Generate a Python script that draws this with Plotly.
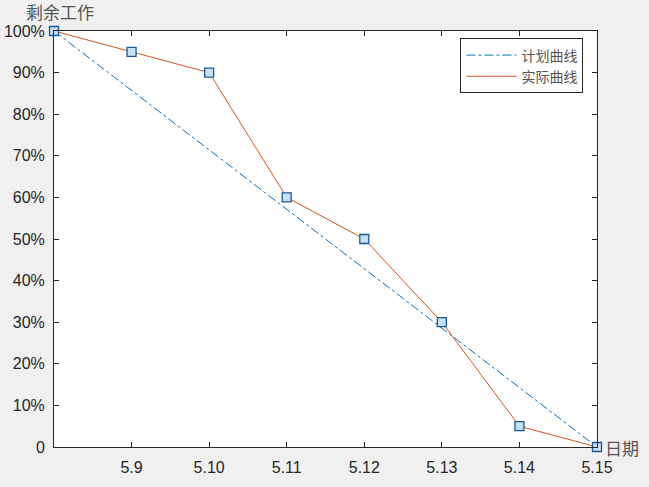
import plotly.graph_objects as go

x_idx = [0, 1, 2, 3, 4, 5, 6, 7]
tick_labels = ["", "5.9", "5.10", "5.11", "5.12", "5.13", "5.14", "5.15"]
plan_x = [0, 7]
plan_y = [100, 0]
actual_y = [100, 95, 90, 60, 50, 30, 5, 0]
y_ticks = [0, 10, 20, 30, 40, 50, 60, 70, 80, 90, 100]
y_labels = ["0"] + [f"{v}%" for v in y_ticks[1:]]

fig = go.Figure()
fig.add_trace(go.Scatter(x=plan_x, y=plan_y, mode="lines", name="计划曲线",
                         line=dict(color="#0072BD", width=1, dash="dashdot"),
                         cliponaxis=False))
fig.add_trace(go.Scatter(x=x_idx, y=actual_y, mode="lines", name="实际曲线",
                         line=dict(color="#D95319", width=1), cliponaxis=False))
fig.add_trace(go.Scatter(x=x_idx, y=actual_y, mode="markers", showlegend=False,
                         cliponaxis=False,
                         marker=dict(symbol="square", size=9, color="#C6E0F5",
                                     line=dict(color="#1A5A9A", width=1.3))))

font = "Liberation Sans, Arial, Noto Sans CJK SC"
fig.update_layout(
    width=649, height=487,
    paper_bgcolor="#F0F0F0", plot_bgcolor="white",
    margin=dict(l=54, r=52, t=31, b=40, autoexpand=False),
    font=dict(family=font, size=16, color="#262626"),
    legend=dict(x=0.975, y=0.982, xanchor="right", yanchor="top",
                bgcolor="white", bordercolor="#262626", borderwidth=1,
                font=dict(family="Noto Sans CJK SC", size=14, color="#555555"),
                tracegroupgap=0, itemwidth=50),
    xaxis=dict(range=[0, 7], tickvals=x_idx, ticktext=tick_labels,
               ticks="inside", ticklen=5, tickcolor="#262626", ticklabelstandoff=6,
               showline=True, linecolor="#262626", linewidth=1, mirror="ticks",
               showgrid=False, zeroline=False, fixedrange=True, automargin=False),
    yaxis=dict(range=[0, 100], tickvals=y_ticks, ticktext=y_labels,
               ticks="inside", ticklen=5, tickcolor="#262626", ticklabelstandoff=5,
               showline=True, linecolor="#262626", linewidth=1, mirror="ticks",
               showgrid=False, zeroline=False, fixedrange=True, automargin=False),
    showlegend=True,
)
fig.add_annotation(text="剩余工作", xref="paper", yref="paper", x=0, y=1,
                   xanchor="center", yanchor="bottom", xshift=6, yshift=5, showarrow=False,
                   font=dict(family="Noto Sans CJK SC", size=17, color="#555555"))
fig.add_annotation(text="日期", xref="paper", yref="paper", x=1, y=0,
                   xanchor="left", yanchor="middle", xshift=6, showarrow=False,
                   font=dict(family="Noto Sans CJK SC", size=17, color="#555555"))
fig.write_html("out.html", config={"displayModeBar": False},
               post_script="document.body.style.margin='0';")
